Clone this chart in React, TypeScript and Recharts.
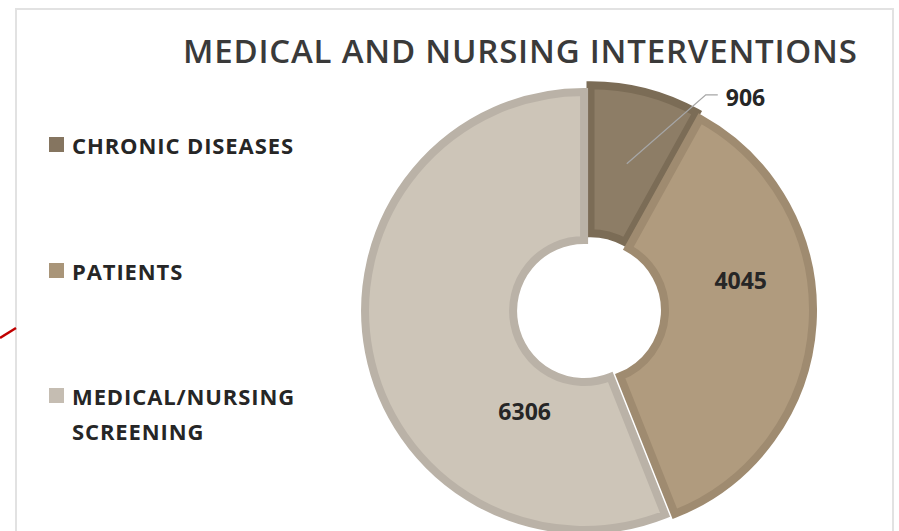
import React from "react";
import { PieChart, Pie, Cell, Sector, Legend } from "recharts";

const categories = ["CHRONIC DISEASES", "PATIENTS", "MEDICAL/NURSING SCREENING"];
const legendLines = [["CHRONIC DISEASES"], ["PATIENTS"], ["MEDICAL/NURSING", "SCREENING"]];
const values = [906, 4045, 6306];

const fills = ["#8d7d66", "#b09b7e", "#cdc5b8"];
const strokes = ["#7b6c56", "#9f8b70", "#bab2a7"];
const markers = ["#857560", "#a99579", "#c5bdb2"];

// how far each slice is pulled out along its mid angle
const explode = [6, 5, 5];
// label nudges from the slice midpoint (Excel "best fit")
const labelNudge = [
    { dx: 79, dy: -69 },
    { dx: 2, dy: -40 },
    { dx: 83, dy: 73 },
];

const RAD = Math.PI / 180;

const data = categories.map((name, i) => ({ name, value: values[i] }));

const FONT = "'Open Sans', sans-serif";

function ExplodedSector(props: any) {
    const { cx, cy, midAngle, index } = props;
    const s = explode[index] ?? 0;
    return (
        <Sector
            {...props}
            cx={cx + s * Math.cos(-midAngle * RAD)}
            cy={cy + s * Math.sin(-midAngle * RAD)}
            fill={fills[index]}
            stroke={strokes[index]}
            strokeWidth={8}
            strokeLinejoin="miter"
        />
    );
}

function renderLabel(props: any) {
    const { cx, cy, midAngle, innerRadius, outerRadius, index, value } = props;
    const r = (innerRadius + outerRadius) / 2 + (explode[index] ?? 0);
    const mx = cx + r * Math.cos(-midAngle * RAD);
    const my = cy + r * Math.sin(-midAngle * RAD);
    const n = labelNudge[index];
    if (index === 0) {
        const ex = mx + n.dx;
        const ey = my + n.dy;
        return (
            <g>
                <polyline
                    points={`${mx},${my} ${ex},${ey} ${ex + 12},${ey}`}
                    fill="none"
                    stroke="#a6a6a6"
                    strokeWidth={1.3}
                />
                <text
                    x={ex + 20}
                    y={ey + 2}
                    dominantBaseline="central"
                    fontFamily={FONT}
                    fontWeight={700}
                    fontSize={23}
                    fill="#262626"
                >
                    {value}
                </text>
            </g>
        );
    }
    return (
        <text
            x={mx + n.dx}
            y={my + n.dy}
            textAnchor="middle"
            dominantBaseline="central"
            fontFamily={FONT}
            fontWeight={700}
            fontSize={23}
            fill="#262626"
        >
            {value}
        </text>
    );
}

function LegendBox(props: any) {
    const items = props.payload || [];
    const tops = [145, 271, 396];
    return (
        <div style={{ position: "relative", width: 320, height: 460 }}>
            {items.map((it: any, i: number) => (
                <div key={i}>
                    <div
                        style={{
                            position: "absolute",
                            left: 49,
                            top: tops[i] - 8,
                            width: 15,
                            height: 15,
                            background: markers[i],
                        }}
                    />
                    {legendLines[i].map((line, j) => (
                        <div
                            key={j}
                            style={{
                                position: "absolute",
                                left: 72,
                                top: tops[i] + j * 35 - 16,
                                height: 32,
                                lineHeight: "32px",
                                fontFamily: FONT,
                                fontWeight: 700,
                                fontSize: 22,
                                letterSpacing: 0.9,
                                color: "#262626",
                                whiteSpace: "nowrap",
                            }}
                        >
                            {line}
                        </div>
                    ))}
                </div>
            ))}
        </div>
    );
}

export default function App() {
    return (
        <div
            style={{
                position: "absolute",
                left: 0,
                top: 0,
                width: 899,
                height: 531,
                overflow: "hidden",
                background: "#fff",
            }}
        >
            <div
                style={{
                    position: "absolute",
                    left: 15,
                    top: 8,
                    width: 875,
                    height: 600,
                    border: "2px solid #e2e2e2",
                }}
            />
            <svg
                width={20}
                height={20}
                style={{ position: "absolute", left: 0, top: 325 }}
            >
                <line x1={0} y1={13} x2={16} y2={3} stroke="#c00000" strokeWidth={2.5} />
            </svg>
            <div
                style={{
                    position: "absolute",
                    left: 183,
                    top: 28,
                    width: 700,
                    height: 46,
                    lineHeight: "46px",
                    fontFamily: FONT,
                    fontWeight: 600,
                    fontSize: 33,
                    letterSpacing: 0.8,
                    color: "#3a3a3a",
                    whiteSpace: "nowrap",
                }}
            >
                MEDICAL AND NURSING INTERVENTIONS
            </div>
            <div style={{ position: "absolute", left: 0, top: 0 }}>
                <PieChart width={899} height={531} margin={{ top: 0, right: 0, bottom: 0, left: 0 }}>
                    <Pie
                        data={data}
                        dataKey="value"
                        nameKey="name"
                        cx={589}
                        cy={310}
                        innerRadius={71}
                        outerRadius={219}
                        startAngle={90}
                        endAngle={-270}
                        isAnimationActive={false}
                        shape={ExplodedSector}
                        label={renderLabel}
                        labelLine={false}
                    >
                        {data.map((d, i) => (
                            <Cell key={d.name} fill={fills[i]} stroke={strokes[i]} strokeWidth={8} />
                        ))}
                    </Pie>
                    <Legend
                        content={<LegendBox />}
                        wrapperStyle={{ position: "absolute", left: 0, top: 0, width: 320 }}
                    />
                </PieChart>
            </div>
        </div>
    );
}
